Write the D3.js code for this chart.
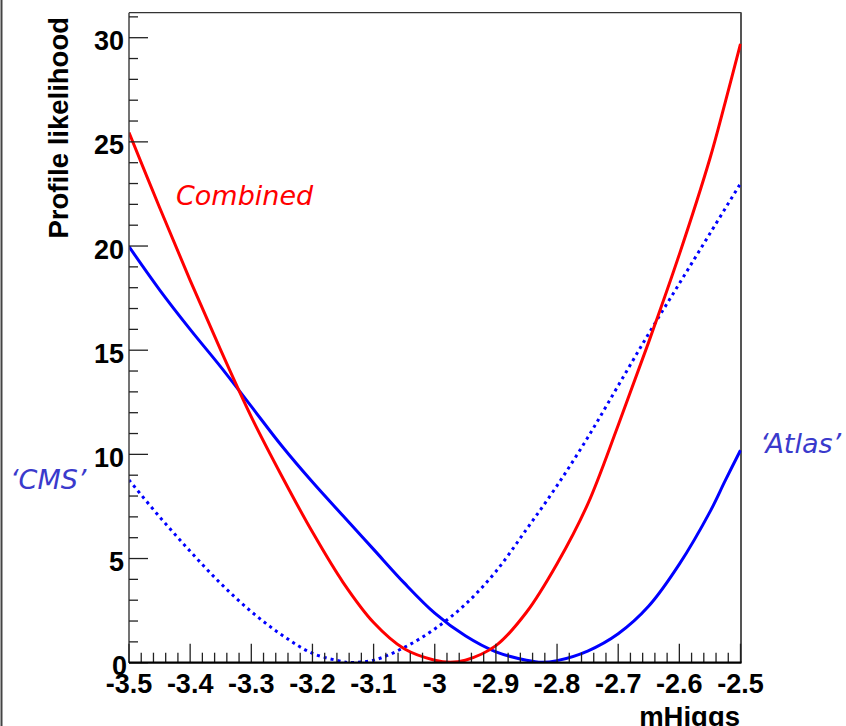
<!DOCTYPE html>
<html>
<head>
<meta charset="utf-8">
<script src="https://cdn.jsdelivr.net/npm/d3@7"></script>
<style>
  html, body { margin: 0; padding: 0; background: #fff; }
  svg { display: block; }
</style>
</head>
<body>
<script>
// ---- data ----
const xTicks = [-3.5, -3.4, -3.3, -3.2, -3.1, -3.0, -2.9, -2.8, -2.7, -2.6, -2.5];
const xTickLabels = ["-3.5", "-3.4", "-3.3", "-3.2", "-3.1", "-3", "-2.9", "-2.8", "-2.7", "-2.6", "-2.5"];
const yTicks = [0, 5, 10, 15, 20, 25, 30];
const yTickLabels = ["0", "5", "10", "15", "20", "25", "30"];

const combinedX = [-3.5, -3.45, -3.4, -3.35, -3.3, -3.25, -3.2, -3.15, -3.1, -3.05, -3.0, -2.975, -2.95, -2.9, -2.85, -2.8, -2.75, -2.7, -2.65, -2.6, -2.55, -2.525, -2.5];
const combinedY = [25.45, 21.85, 18.35, 15.0, 11.8, 8.95, 6.27, 3.86, 1.93, 0.67, 0.12, 0.02, 0.12, 0.82, 2.42, 4.75, 7.6, 11.4, 15.4, 19.6, 24.2, 26.9, 29.7];

const atlasX = [-3.5, -3.45, -3.4, -3.35, -3.3, -3.25, -3.2, -3.15, -3.1, -3.05, -3.0, -2.95, -2.9, -2.85, -2.825, -2.8, -2.75, -2.7, -2.65, -2.6, -2.55, -2.525, -2.5];
const atlasY = [19.97, 17.9, 16.0, 14.2, 12.3, 10.4, 8.67, 7.05, 5.44, 3.83, 2.38, 1.29, 0.52, 0.12, 0.02, 0.1, 0.56, 1.39, 2.72, 4.73, 7.24, 8.74, 10.2];

const cmsX = [-3.5, -3.45, -3.4, -3.35, -3.3, -3.25, -3.2, -3.15, -3.14, -3.1, -3.05, -3.0, -2.95, -2.9, -2.85, -2.8, -2.75, -2.7, -2.65, -2.6, -2.55, -2.5];
const cmsY = [8.77, 7.0, 5.35, 3.8, 2.45, 1.33, 0.45, 0.05, 0.01, 0.12, 0.73, 1.62, 2.8, 4.38, 6.4, 8.5, 10.8, 13.3, 15.8, 18.2, 20.6, 23.0];

// ---- layout ----
const W = 846, H = 726;
const pL = 129, pR = 740.5, pT = 12.7, pB = 662.7;

const svg = d3.select("body").append("svg")
  .attr("width", W).attr("height", H);

const x = d3.scaleLinear().domain([-3.5, -2.5]).range([pL, pR]);
const y = d3.scaleLinear().domain([0, 31.2]).range([pB, pT]);

// left page border line
svg.append("line").attr("x1", 1.5).attr("x2", 1.5).attr("y1", 0).attr("y2", H)
  .attr("stroke", "#444").attr("stroke-width", 2);

// frame
svg.append("line").attr("x1", pL).attr("x2", pR + 1).attr("y1", pT).attr("y2", pT)
  .attr("stroke", "#333").attr("stroke-width", 1.2);
svg.append("line").attr("x1", pR + 0.5).attr("x2", pR + 0.5).attr("y1", pT).attr("y2", pB)
  .attr("stroke", "#555").attr("stroke-width", 2);

// curves
svg.append("defs").append("clipPath").attr("id", "pc")
  .append("rect").attr("x", pL).attr("y", pT).attr("width", pR - pL + 1).attr("height", pB - pT);

const mk = (xs, ys) => xs.map((v, i) => [v, ys[i]]);
const gen = d3.line().x(d => x(d[0])).y(d => y(d[1])).curve(d3.curveCatmullRom.alpha(0.5));

const g = svg.append("g").attr("clip-path", "url(#pc)");
g.append("path").datum(mk(cmsX, cmsY)).attr("d", gen)
  .attr("fill", "none").attr("stroke", "#0000ff").attr("stroke-width", 3)
  .attr("stroke-dasharray", "3,4");
g.append("path").datum(mk(atlasX, atlasY)).attr("d", gen)
  .attr("fill", "none").attr("stroke", "#0000ff").attr("stroke-width", 3);
g.append("path").datum(mk(combinedX, combinedY)).attr("d", gen)
  .attr("fill", "none").attr("stroke", "#ff0000").attr("stroke-width", 3);

// y axis
const yAxisG = svg.append("g");
yAxisG.append("line").attr("x1", pL).attr("x2", pL).attr("y1", pT).attr("y2", pB)
  .attr("stroke", "#444").attr("stroke-width", 1.5);
const yMinor = d3.range(0, 32, 1);
yAxisG.selectAll("line.ymin").data(yMinor).enter().append("line")
  .attr("x1", pL).attr("x2", d => pL + (d % 5 === 0 ? 19 : 9))
  .attr("y1", d => y(d)).attr("y2", d => y(d))
  .attr("stroke", "#222").attr("stroke-width", 1.3);
yAxisG.selectAll("text").data(yTicks).enter().append("text")
  .attr("x", d => d === 0 ? 127 : 124).attr("y", d => y(d) + 12.5)
  .attr("text-anchor", "end")
  .attr("font-family", "'Liberation Sans', Arial, sans-serif")
  .attr("font-weight", "bold").attr("font-size", 27)
  .text((d, i) => yTickLabels[i]);

// x axis
const xAxisG = svg.append("g");
const xMinor = d3.range(0, 51).map(i => -3.5 + i * 0.02);
xAxisG.selectAll("line.xmin").data(xMinor).enter().append("line")
  .attr("x1", d => x(d)).attr("x2", d => x(d))
  .attr("y1", pB).attr("y2", (d, i) => pB - (i % 5 === 0 ? 19 : 10))
  .attr("stroke", "#222").attr("stroke-width", 1.3);
xAxisG.append("line").attr("x1", pL).attr("x2", pR + 1).attr("y1", pB).attr("y2", pB)
  .attr("stroke", "#000").attr("stroke-width", 2.2);
xAxisG.selectAll("text").data(xTicks).enter().append("text")
  .attr("x", d => x(d)).attr("y", 692.5)
  .attr("text-anchor", "middle")
  .attr("font-family", "'Liberation Sans', Arial, sans-serif")
  .attr("font-weight", "bold").attr("font-size", 27)
  .text((d, i) => xTickLabels[i]);

// axis titles
svg.append("text")
  .attr("transform", "translate(68,17) rotate(-90)")
  .attr("text-anchor", "end")
  .attr("font-family", "'Liberation Sans', Arial, sans-serif")
  .attr("font-weight", "bold").attr("font-size", 27.5)
  .text("Profile likelihood");
svg.append("text")
  .attr("x", 740).attr("y", 725.5)
  .attr("text-anchor", "end")
  .attr("font-family", "'Liberation Sans', Arial, sans-serif")
  .attr("font-weight", "bold").attr("font-size", 27.5)
  .text("mHiggs");

// annotations
const ann = (txt, xx, yy, col) => svg.append("text")
  .attr("x", xx).attr("y", yy)
  .attr("font-family", "'DejaVu Sans', Verdana, sans-serif")
  .attr("font-style", "italic").attr("font-size", 27)
  .attr("fill", col).text(txt);
ann("Combined", 176, 205, "#ff0000");
ann("\u2018Atlas\u2019", 760, 453, "#3a3acc");
ann("\u2018CMS\u2019", 10, 489, "#3a3acc");
</script>
</body>
</html>
